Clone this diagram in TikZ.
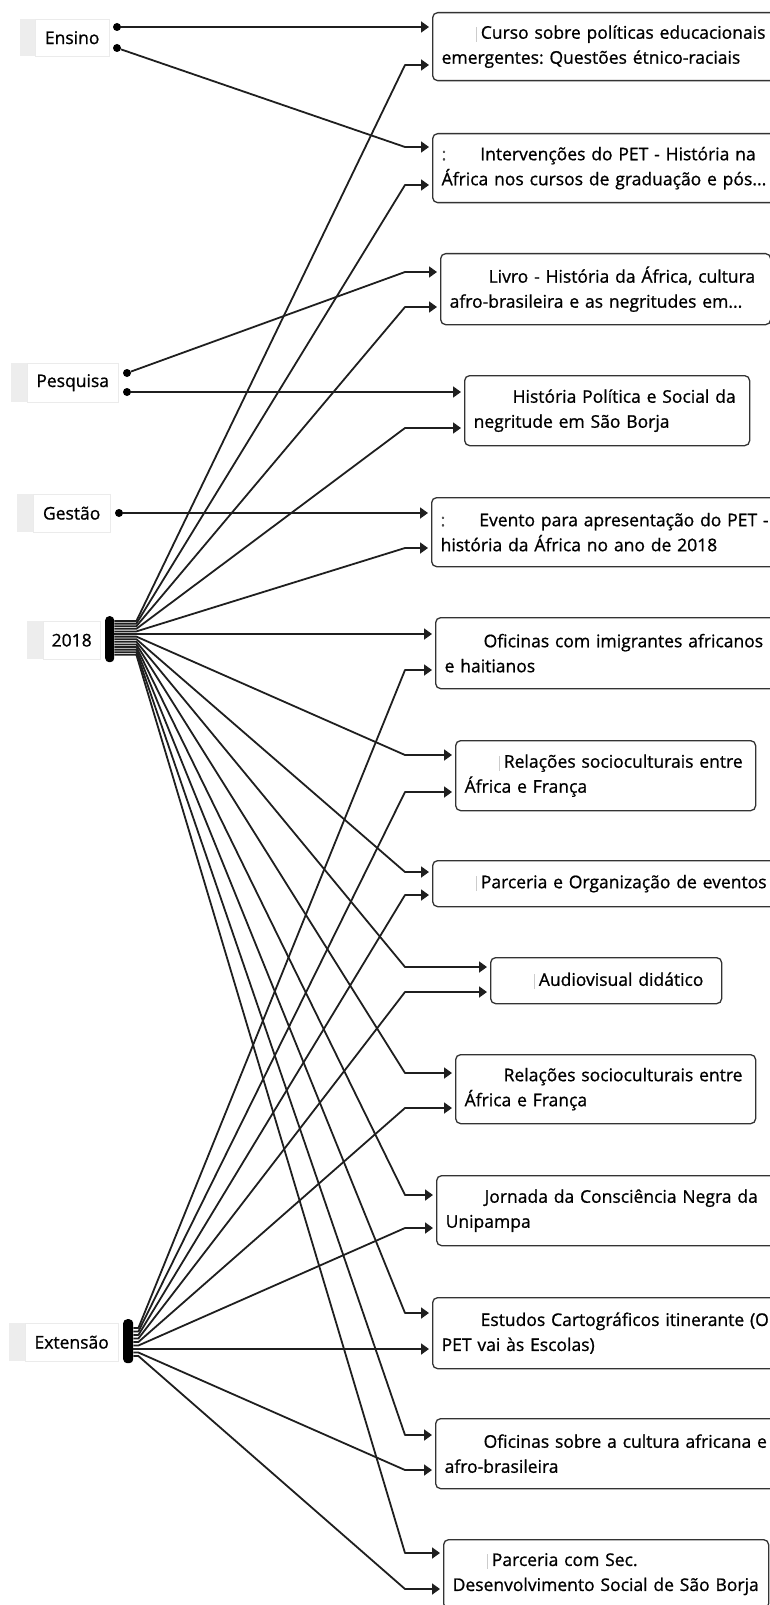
\documentclass[tikz,border=0pt]{standalone}
\usepackage{fontspec}
\setmainfont{Open Sans}
\newfontfamily\fontecaixa{Open Sans}[FakeBold=0.9]
\usetikzlibrary{arrows.meta, calc}
\newcommand{\fonte}{\fontecaixa\fontsize{17.5}{25}\selectfont\frenchspacing}
\newcommand{\marca}{\textcolor{black!20}{\rule[-3pt]{1.2pt}{15pt}}}
\newcommand{\recuo}{\hspace*{34pt}\marca\hspace{4pt}}
\newcommand{\recuoB}{\hspace*{39pt}}
\newcommand{\pontos}{\textcolor{black!70}{:}\hspace*{34pt}}
\tikzset{
  caixa/.style = {draw=black!80, line width=1.3pt, rounded corners=5pt, anchor=north west, inner xsep=9pt, inner ysep=0pt, align=left, font=\fonte},
  rotulo/.style = {draw=black!8, fill=white, anchor=north west, inner sep=0pt, font=\fonte},
  ponto/.style = {circle, fill=black, inner sep=0pt, minimum size=8pt},
  barra/.style = {fill=black, rounded corners=4pt, anchor=north west, inner sep=0pt},
  ligacao/.style = {draw=black!88, line width=1.8pt, line join=round, -{Triangle[length=8pt,width=11pt]}}
}

\begin{document}
\begin{tikzpicture}[x=1pt, y=-1pt]
    \useasboundingbox (0,0) rectangle (770,1605);
    % Parametros
    \coordinate (cot) at (405,0);
    % Rotulos da esquerda
    \node[rotulo, minimum width=74pt, minimum height=37pt] (ensino) at (35,19) {Ensino};
    \node[rotulo, minimum width=91pt, minimum height=39pt] (pesquisa) at (27,363) {Pesquisa};
    \node[rotulo, minimum width=77pt, minimum height=38pt] (gestao) at (33,494) {Gestão};
    \node[rotulo, minimum width=57pt, minimum height=38pt] (ano) at (43,621) {2018};
    \node[rotulo, minimum width=93pt, minimum height=38pt] (extensao) at (25,1323) {Extensão};
    \fill[black!7] ([xshift=-15pt]ensino.north west) rectangle (ensino.south west);
    \fill[black!7] ([xshift=-16pt]pesquisa.north west) rectangle (pesquisa.south west);
    \fill[black!7] ([xshift=-16pt]gestao.north west) rectangle (gestao.south west);
    \fill[black!7] ([xshift=-16pt]ano.north west) rectangle (ano.south west);
    \fill[black!7] ([xshift=-16pt]extensao.north west) rectangle (extensao.south west);
    % Pontos e barras
    \node[ponto] (pontoE1) at (117,27) {};
    \node[ponto] (pontoE2) at (117,48) {};
    \node[ponto] (pontoP1) at (127,373) {};
    \node[ponto] (pontoP2) at (127,392) {};
    \node[ponto] (pontoG) at (119,513) {};
    \node[barra, minimum width=9pt, minimum height=46pt] (barraAno) at (105,616) {};
    \node[barra, minimum width=10pt, minimum height=44pt] (barraExt) at (123,1319) {};
    % Caixas
    \node[caixa, text width=335pt, minimum height=68pt] (b1) at (432,12) {\recuo Curso sobre políticas educacionais\\emergentes: Questões étnico-raciais};
    \node[caixa, text width=335pt, minimum height=69pt] (b2) at (432,133) {\pontos Intervenções do PET - História na\\África nos cursos de graduação e pós...};
    \node[caixa, text width=312pt, minimum height=71pt] (b3) at (440,253) {\recuoB Livro - História da África, cultura\\afro-brasileira e as negritudes em...};
    \node[caixa, text width=267pt, minimum height=70pt] (b4) at (464,375) {\recuoB História Política e Social da\\negritude em São Borja};
    \node[caixa, text width=336pt, minimum height=69pt] (b5) at (431,497) {\pontos Evento para apresentação do PET -\\história da África no ano de 2018};
    \node[caixa, text width=332pt, minimum height=71pt] (b6) at (435,617) {\recuoB Oficinas com imigrantes africanos\\e haitianos};
    \node[caixa, text width=282pt, minimum height=70pt] (b7) at (455,740) {\recuo Relações socioculturais entre\\África e França};
    \node[caixa, text width=335pt, minimum height=46pt] (b8) at (432,860) {\recuo Parceria e Organização de eventos};
    \node[caixa, text width=213pt, minimum height=46pt] (b9) at (490,957) {\recuo Audiovisual didático};
    \node[caixa, text width=282pt, minimum height=69pt] (b10) at (455,1054) {\recuoB Relações socioculturais entre\\África e França};
    \node[caixa, text width=331pt, minimum height=70pt] (b11) at (436,1175) {\recuoB Jornada da Consciência Negra da\\Unipampa};
    \node[caixa, text width=335pt, minimum height=71pt] (b12) at (432,1297) {\recuoB Estudos Cartográficos itinerante (O\\PET vai às Escolas)};
    \node[caixa, text width=332pt, minimum height=70pt] (b13) at (435,1418) {\recuoB Oficinas sobre a cultura africana e\\afro-brasileira};
    \node[caixa, text width=307pt, minimum height=69pt] (b14) at (443,1539) {\recuo Parceria com Sec.\\Desenvolvimento Social de São Borja};
    % Entradas das caixas
    \coordinate (b1a) at ([shift={(-3,15)}]b1.north west);
    \coordinate (b1b) at ([shift={(-3,53)}]b1.north west);
    \coordinate (b2a) at ([shift={(-3,14)}]b2.north west);
    \coordinate (b2b) at ([shift={(-3,52)}]b2.north west);
    \coordinate (b3a) at ([shift={(-3,19)}]b3.north west);
    \coordinate (b3b) at ([shift={(-3,54)}]b3.north west);
    \coordinate (b4a) at ([shift={(-3,17)}]b4.north west);
    \coordinate (b4b) at ([shift={(-3,53)}]b4.north west);
    \coordinate (b5a) at ([shift={(-3,16)}]b5.north west);
    \coordinate (b5b) at ([shift={(-3,51)}]b5.north west);
    \coordinate (b6a) at ([shift={(-3,17)}]b6.north west);
    \coordinate (b6b) at ([shift={(-3,53)}]b6.north west);
    \coordinate (b7a) at ([shift={(-3,15)}]b7.north west);
    \coordinate (b7b) at ([shift={(-3,52)}]b7.north west);
    \coordinate (b8a) at ([shift={(-3,12)}]b8.north west);
    \coordinate (b8b) at ([shift={(-3,35)}]b8.north west);
    \coordinate (b9a) at ([shift={(-3,10)}]b9.north west);
    \coordinate (b9b) at ([shift={(-3,35)}]b9.north west);
    \coordinate (b10a) at ([shift={(-3,19)}]b10.north west);
    \coordinate (b10b) at ([shift={(-3,54)}]b10.north west);
    \coordinate (b11a) at ([shift={(-3,20)}]b11.north west);
    \coordinate (b11b) at ([shift={(-3,53)}]b11.north west);
    \coordinate (b12a) at ([shift={(-3,16)}]b12.north west);
    \coordinate (b12b) at ([shift={(-3,52)}]b12.north west);
    \coordinate (b13a) at ([shift={(-3,17)}]b13.north west);
    \coordinate (b13b) at ([shift={(-3,52)}]b13.north west);
    \coordinate (b14a) at ([shift={(-3,14)}]b14.north west);
    \coordinate (b14b) at ([shift={(-3,50)}]b14.north west);
    % Ensino, Pesquisa, Gestao
    \draw[ligacao] (pontoE1) -- (b1a -| cot) -- (b1a);
    \draw[ligacao] (pontoE2) -- (b2a -| cot) -- (b2a);
    \draw[ligacao] (pontoP1) -- (b3a -| cot) -- (b3a);
    \draw[ligacao] (pontoP2) -- (b4a -| cot) -- (b4a);
    \draw[ligacao] (pontoG) -- (b5a -| cot) -- (b5a);
    % 2018
    \draw[ligacao] ([yshift=-5pt]barraAno.north east) -- ++(22,0) -- (b1b -| cot) -- (b1b);
    \draw[ligacao] ([yshift=-7.6pt]barraAno.north east) -- ++(22,0) -- (b2b -| cot) -- (b2b);
    \draw[ligacao] ([yshift=-10.2pt]barraAno.north east) -- ++(22,0) -- (b3b -| cot) -- (b3b);
    \draw[ligacao] ([yshift=-12.8pt]barraAno.north east) -- ++(22,0) -- (b4b -| cot) -- (b4b);
    \draw[ligacao] ([yshift=-15.4pt]barraAno.north east) -- ++(22,0) -- (b5b -| cot) -- (b5b);
    \draw[ligacao] ([yshift=-18pt]barraAno.north east) -- ++(22,0) -- (b6a -| cot) -- (b6a);
    \draw[ligacao] ([yshift=-20.6pt]barraAno.north east) -- ++(22,0) -- (b7a -| cot) -- (b7a);
    \draw[ligacao] ([yshift=-23.2pt]barraAno.north east) -- ++(22,0) -- (b8a -| cot) -- (b8a);
    \draw[ligacao] ([yshift=-25.8pt]barraAno.north east) -- ++(22,0) -- (b9a -| cot) -- (b9a);
    \draw[ligacao] ([yshift=-28.4pt]barraAno.north east) -- ++(22,0) -- (b10a -| cot) -- (b10a);
    \draw[ligacao] ([yshift=-31pt]barraAno.north east) -- ++(22,0) -- (b11a -| cot) -- (b11a);
    \draw[ligacao] ([yshift=-33.6pt]barraAno.north east) -- ++(22,0) -- (b12a -| cot) -- (b12a);
    \draw[ligacao] ([yshift=-36.2pt]barraAno.north east) -- ++(22,0) -- (b13a -| cot) -- (b13a);
    \draw[ligacao] ([yshift=-38.8pt]barraAno.north east) -- ++(22,0) -- (b14a -| cot) -- (b14a);
    % Extensao
    \draw[ligacao] ([yshift=-9pt]barraExt.north east) -- ++(5,0) -- (b6b -| cot) -- (b6b);
    \draw[ligacao] ([yshift=-12.5pt]barraExt.north east) -- ++(5,0) -- (b7b -| cot) -- (b7b);
    \draw[ligacao] ([yshift=-16pt]barraExt.north east) -- ++(5,0) -- (b8b -| cot) -- (b8b);
    \draw[ligacao] ([yshift=-19.5pt]barraExt.north east) -- ++(5,0) -- (b9b -| cot) -- (b9b);
    \draw[ligacao] ([yshift=-23pt]barraExt.north east) -- ++(5,0) -- (b10b -| cot) -- (b10b);
    \draw[ligacao] ([yshift=-26.5pt]barraExt.north east) -- ++(5,0) -- (b11b -| cot) -- (b11b);
    \draw[ligacao] ([yshift=-30pt]barraExt.north east) -- ++(5,0) -- (b12b -| cot) -- (b12b);
    \draw[ligacao] ([yshift=-33.5pt]barraExt.north east) -- ++(5,0) -- (b13b -| cot) -- (b13b);
    \draw[ligacao] ([yshift=-37pt]barraExt.north east) -- ++(5,0) -- (b14b -| cot) -- (b14b);
\end{tikzpicture}
\end{document}
